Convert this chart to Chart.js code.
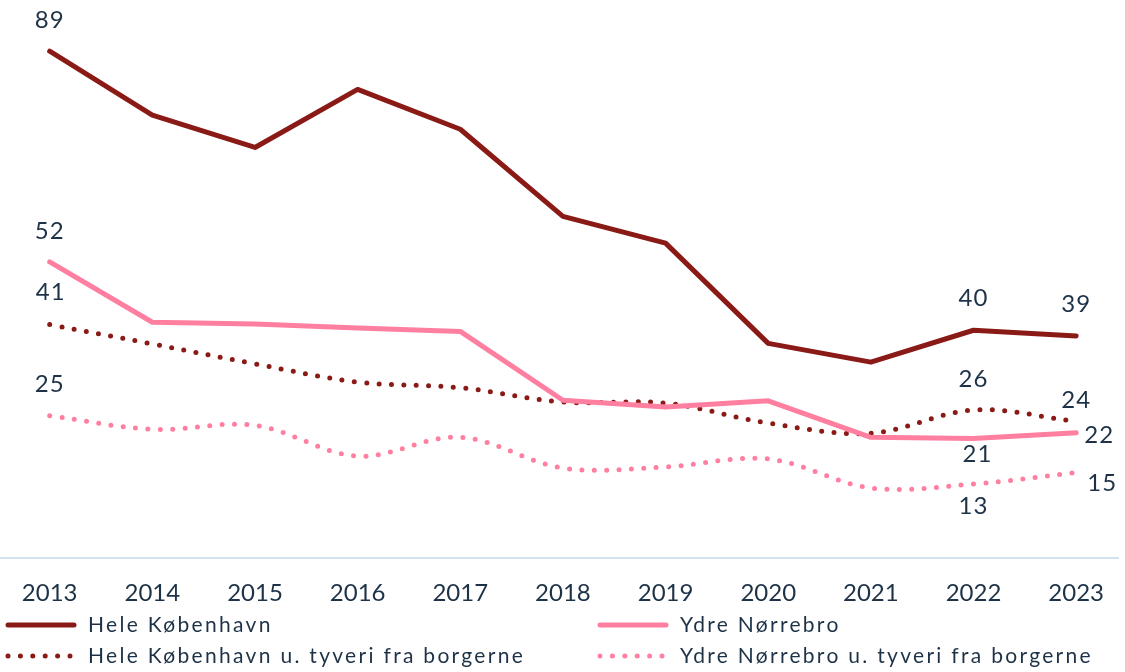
<!DOCTYPE html>
<html lang="da">
<head>
<meta charset="utf-8">
<title>Anmeldte forbrydelser</title>
<script src="https://cdn.jsdelivr.net/npm/chart.js@4.4.1/dist/chart.umd.min.js"></script>
<style>
    html, body { margin: 0; padding: 0; background: #ffffff; }
    #chart { display: block; }
</style>
</head>
<body>
<canvas id="chart" width="1125" height="672"></canvas>
<script>
const years = [2013, 2014, 2015, 2016, 2017, 2018, 2019, 2020, 2021, 2022, 2023];

const heleKbh = [89, 77.8, 72.1, 82.3, 75.3, 60.0, 55.3, 37.7, 34.4, 40, 39];
const ydreNbro = [52, 41.4, 41.1, 40.4, 39.8, 27.7, 26.5, 27.6, 21.2, 21, 22];
const heleKbhUdenTyveri = [41, 37.6, 34.1, 30.9, 29.9, 27.4, 27.2, 23.7, 21.9, 26, 24];
const ydreNbroUdenTyveri = [25, 22.6, 23.3, 17.9, 21.2, 15.8, 16.0, 17.4, 12.3, 13, 15];

const DARK_RED = '#8a1a16';
const PINK = '#ff7fa1';
const TEXT = '#1d3247';
const FONT = 'Lato, "Open Sans", sans-serif';

const toPoints = (values) => values.map((v, i) => ({ x: years[i], y: v }));

const solid = (label, values, color) => ({
    label,
    data: toPoints(values),
    borderColor: color,
    borderWidth: 5,
    borderCapStyle: 'round',
    borderJoinStyle: 'round',
    pointRadius: 0,
    tension: 0,
    fill: false,
});

const dotted = (label, values, color) => ({
    ...solid(label, values, color),
    borderDash: [0, 12.4],
    tension: 0.35,
});

const datasets = [
    solid('Hele København', heleKbh, DARK_RED),
    solid('Ydre Nørrebro', ydreNbro, PINK),
    dotted('Hele København u. tyveri fra borgerne', heleKbhUdenTyveri, DARK_RED),
    dotted('Ydre Nørrebro u. tyveri fra borgerne', ydreNbroUdenTyveri, PINK),
];

// which points get a value label, and where it sits relative to the point
const valueLabels = [
    { ds: 0, i: 0, dx: 0, dy: -31 },
    { ds: 0, i: 9, dx: 0, dy: -32 },
    { ds: 0, i: 10, dx: 0, dy: -32 },
    { ds: 1, i: 0, dx: 0, dy: -31 },
    { ds: 1, i: 9, dx: 4, dy: 16 },
    { ds: 1, i: 10, dx: 23, dy: 3 },
    { ds: 2, i: 0, dx: 1, dy: -32 },
    { ds: 2, i: 9, dx: 0, dy: -31 },
    { ds: 2, i: 10, dx: 0, dy: -21 },
    { ds: 3, i: 0, dx: 0, dy: -31 },
    { ds: 3, i: 9, dx: 0, dy: 22 },
    { ds: 3, i: 10, dx: 26, dy: 11 },
];

const valueLabelPlugin = {
    id: 'valueLabels',
    afterDatasetsDraw(chart) {
        const ctx = chart.ctx;
        ctx.save();
        ctx.font = '24px ' + FONT;
        ctx.letterSpacing = '1px';
        ctx.fillStyle = TEXT;
        ctx.textAlign = 'center';
        ctx.textBaseline = 'middle';
        valueLabels.forEach(({ ds, i, dx, dy }) => {
            const pt = chart.getDatasetMeta(ds).data[i];
            const value = chart.data.datasets[ds].data[i].y;
            ctx.fillText(String(Math.round(value)), pt.x + dx, pt.y + dy);
        });
        ctx.restore();
    },
};

// two-column legend under the axis
const legendSlots = [
    { ds: 0, x: 8, y: 625 },
    { ds: 2, x: 8, y: 656 },
    { ds: 1, x: 600, y: 625 },
    { ds: 3, x: 600, y: 656 },
];

const legendPlugin = {
    id: 'twoColLegend',
    afterDraw(chart) {
        const ctx = chart.ctx;
        ctx.save();
        legendSlots.forEach(({ ds, x, y }) => {
            const set = chart.data.datasets[ds];
            ctx.beginPath();
            ctx.strokeStyle = set.borderColor;
            ctx.lineWidth = 5;
            ctx.lineCap = 'round';
            ctx.setLineDash(set.borderDash || []);
            ctx.moveTo(x, y);
            ctx.lineTo(x + 66, y);
            ctx.stroke();
            ctx.setLineDash([]);
            ctx.font = '21px ' + FONT;
            ctx.letterSpacing = '2.3px';
            ctx.fillStyle = TEXT;
            ctx.textAlign = 'left';
            ctx.textBaseline = 'middle';
            ctx.fillText(set.label, x + 80, y);
        });
        ctx.restore();
    },
};

new Chart(document.getElementById('chart'), {
    type: 'line',
    data: { datasets },
    options: {
        responsive: false,
        animation: false,
        layout: { padding: { top: 0, left: 0, right: 0, bottom: 70 } },
        plugins: {
            legend: { display: false },
            tooltip: { enabled: false },
        },
        scales: {
            x: {
                type: 'linear',
                position: 'bottom',
                min: 2012.516,
                max: 2023.417,
                grid: { display: false, drawTicks: false },
                border: { display: true, color: '#d3e2f0', width: 2 },
                ticks: {
                    stepSize: 1,
                    includeBounds: false,
                    autoSkip: false,
                    maxRotation: 0,
                    padding: 21,
                    color: TEXT,
                    font: { family: FONT, size: 24 },
                    callback: (value) => String(value),
                },
                afterFit(scale) { scale.height = 44; },
            },
            y: {
                display: false,
                min: 0,
                max: 98,
            },
        },
    },
    plugins: [valueLabelPlugin, legendPlugin],
});
</script>
</body>
</html>
